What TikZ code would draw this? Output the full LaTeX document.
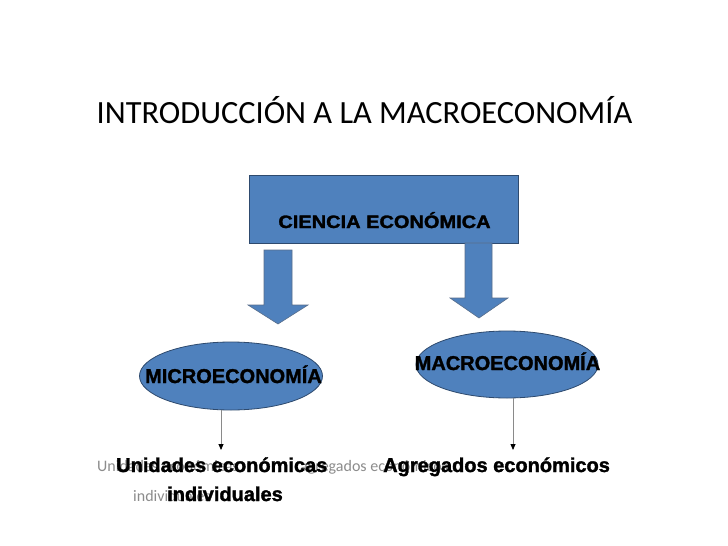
\documentclass[tikz,border=0pt]{standalone}
\usepackage{fontspec}
\setmainfont{Carlito}
\newfontfamily\arialfam{Liberation Sans}[BoldFeatures={FakeBold=1.6}]
\usetikzlibrary{shapes.geometric,arrows.meta}
\definecolor{boxblue}{HTML}{4F81BD}
\definecolor{boxedge}{HTML}{2E4A6E}
\definecolor{graytext}{HTML}{8C8C8C}
\definecolor{thinline}{HTML}{8A8A8A}
\tikzset{
  bluebox/.style={draw=boxedge, fill=boxblue, line width=0.8pt, inner sep=0pt},
  blockarrow/.style={draw=boxedge!80, fill=boxblue, line width=0.6pt},
  boldlbl/.style={inner sep=0pt, font=\arialfam\bfseries\fontsize{20}{24}\selectfont},
  graylbl/.style={inner sep=0pt, text=graytext, font=\fontsize{16}{19}\selectfont},
  thinarrow/.style={draw=thinline, line width=0.8pt, -{Triangle[length=6pt,width=5pt,color=black]}}
}
\begin{document}
\begin{tikzpicture}[x=1pt,y=-1pt]
\useasboundingbox[fill=white] (0,0) rectangle (728,546);
% title
\node[inner sep=0pt, font=\fontsize{32.4}{38}\selectfont, anchor=base] (title) at (364.5,123) {INTRODUCCIÓN A LA MACROECONOMÍA};
% main box
\node[bluebox, minimum width=269pt, minimum height=68pt] (ciencia) at (383.5,209) {};
\node[boldlbl, anchor=base] (cienciatxt) at (384.5,228) {\scalebox{1.0}[0.9]{CIENCIA ECONÓMICA}};
% block arrows
\draw[blockarrow] (264,250) -- (292,250) -- (292,305) -- (308,305) -- (278,324) -- (248,305) -- (264,305) -- cycle;
\draw[blockarrow] (465,243) -- (492,243) -- (492,298) -- (508,298) -- (479,318) -- (450,298) -- (465,298) -- cycle;
% ellipses
\node[bluebox, ellipse, minimum width=183pt, minimum height=68pt] (micro) at (231,376) {};
\node[bluebox, ellipse, minimum width=182pt, minimum height=67pt] (macro) at (507,364.5) {};
\node[boldlbl, anchor=base] (microtxt) at (233.5,383) {MICROECONOMÍA};
\node[boldlbl, anchor=base] (macrotxt) at (507.5,370) {MACROECONOMÍA};
% thin arrows
\coordinate (tipL) at (221,450);
\coordinate (tipR) at (513,450);
\draw[thinarrow] (micro.south -| tipL) -- (tipL);
\draw[thinarrow] (macro.south -| tipR) -- (tipR);
% gray background text
\node[graylbl, anchor=base west] (g1) at (97,471) {Unidades económicas};
\node[graylbl, anchor=base west] (g2) at (300,471) {agregados económicos};
\node[graylbl, anchor=base west] (g3) at (133,501) {individuales};
% bold texts
\node[boldlbl, anchor=base west] (unid) at (116,472) {Unidades económicas};
\node[boldlbl, anchor=base] (indiv) at (225,501) {individuales};
\node[boldlbl, anchor=base west] (agreg) at (383,472) {Agregados económicos};
\end{tikzpicture}
\end{document}
